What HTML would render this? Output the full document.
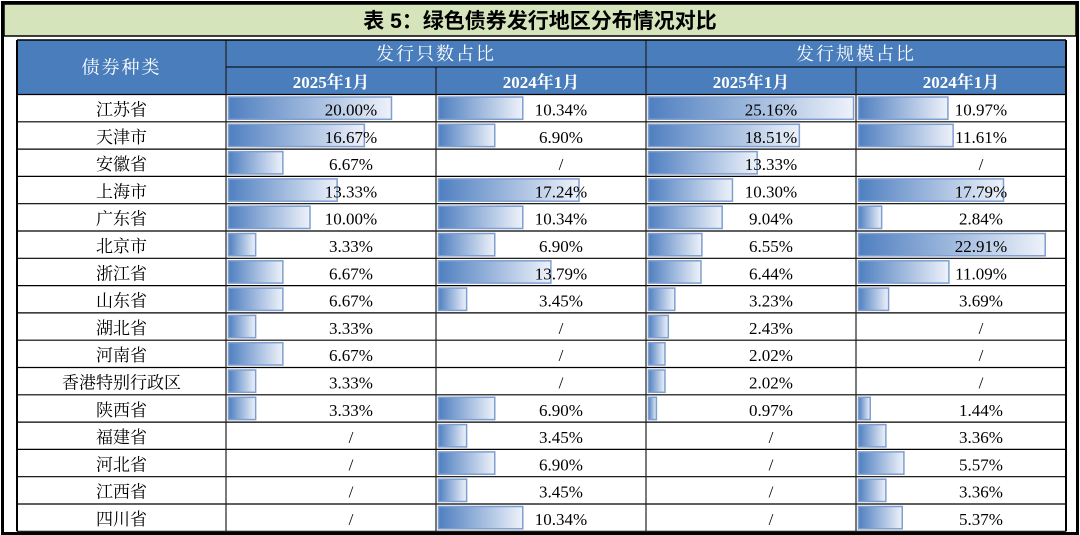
<!DOCTYPE html>
<html><head><meta charset="utf-8">
<style>
html,body{margin:0;padding:0;background:#fff;}
svg{display:block;}
text{font-family:"Liberation Serif","Noto Serif CJK SC",serif;}
</style></head>
<body>
<svg id="chart" width="1080" height="535" viewBox="0 0 1080 535" xmlns="http://www.w3.org/2000/svg">
<defs>
<linearGradient id="barGrad" x1="0" x2="1" y1="0" y2="0">
<stop offset="0" stop-color="#4f7fc0"/>
<stop offset="1" stop-color="#eef2fa"/>
</linearGradient>
</defs>
<rect x="2.5" y="2.5" width="1075" height="531" fill="#fff" stroke="#000" stroke-width="3"/>
<rect x="4" y="4" width="1072" height="32" fill="#d6e4bc" stroke="#000" stroke-width="1.5"/>
<text x="540" y="28" text-anchor="middle" font-size="21" font-weight="bold" style="font-family:'Liberation Sans','Noto Sans CJK SC',sans-serif">表 5：绿色债券发行地区分布情况对比</text>
<g id="table"></g>
</svg>
<script>
const regions = ["江苏省","天津市","安徽省","上海市","广东省","北京市","浙江省","山东省","湖北省","河南省","香港特别行政区","陕西省","福建省","河北省","江西省","四川省"];
const count2025 = [20.00,16.67,6.67,13.33,10.00,3.33,6.67,6.67,3.33,6.67,3.33,3.33,null,null,null,null];
const count2024 = [10.34,6.90,null,17.24,10.34,6.90,13.79,3.45,null,null,null,6.90,3.45,6.90,3.45,10.34];
const scale2025 = [25.16,18.51,13.33,10.30,9.04,6.55,6.44,3.23,2.43,2.02,2.02,0.97,null,null,null,null];
const scale2024 = [10.97,11.61,null,17.79,2.84,22.91,11.09,3.69,null,null,null,1.44,3.36,5.57,3.36,5.37];
const groupHeaders = ["发行只数占比","发行规模占比"];
const subHeaders = ["2025年1月","2024年1月","2025年1月","2024年1月"];

const NS="http://www.w3.org/2000/svg";
const g=document.getElementById('table');
function mk(tag,attrs,parent){const e=document.createElementNS(NS,tag);for(const k in attrs)e.setAttribute(k,attrs[k]);(parent||g).appendChild(e);return e;}
const colX=[17,226,436,646,856,1066];
const h1=40,h2=67,top0=94.5,rowH=27.3;
const pxPerPct=8.15;
function xScale(v){return v*pxPerPct;}
function yRow(i){return top0+i*rowH;}

// header background
let hb=mk('rect',{x:colX[0],y:h1,width:colX[5]-colX[0],height:top0-h1,fill:'#4a7dbb'});


let t=mk('text',{x:(colX[0]+colX[1])/2,y:(h1+top0)/2+6,'text-anchor':'middle','font-size':18,fill:'#fff','letter-spacing':'2'});
t.textContent='债券种类';


groupHeaders.forEach((s,k)=>{
  const x0=colX[1+2*k],x1=colX[3+2*k];
  const e=mk('text',{x:(x0+x1)/2,y:h1+20,'text-anchor':'middle','font-size':18,fill:'#fff','letter-spacing':'2'});
  e.textContent=s;
  
  
});
subHeaders.forEach((s,k)=>{
  const e=mk('text',{x:(colX[1+k]+colX[2+k])/2,y:h2+21,'text-anchor':'middle','font-size':17,'font-weight':'bold',fill:'#fff'});
  e.textContent=s;
  
  
});
const series=[count2025,count2024,scale2025,scale2024];
regions.forEach((r,i)=>{
  const y=yRow(i);
  const lab=mk('text',{x:(colX[0]+colX[1])/2,y:y+21,'text-anchor':'middle','font-size':17});
  lab.textContent=r;
  
  
  series.forEach((arr,k)=>{
    const v=arr[i];
    const cx=colX[1+k];
    if(v!==null){
      const b=mk('rect',{x:cx+2.5,y:y+2.5,width:xScale(v),height:rowH-5,fill:'url(#barGrad)',stroke:'#7f9fd0','stroke-width':1.5});
      
      
    }
    const tx=mk('text',{x:(cx+colX[2+k])/2+20,y:y+21,'text-anchor':'middle','font-size':17});
    tx.textContent=v===null?'/':v.toFixed(2)+'%';
    
    
  });
});
// grid lines
const bottom=yRow(regions.length);
for(let i=0;i<=regions.length;i++){
  const l=mk('line',{x1:colX[0],x2:colX[5],y1:yRow(i),y2:yRow(i),stroke:'#000','stroke-width':1.2});
  
  
}
colX.forEach((x,k)=>{
  let y1=h1;
  if(k===2||k===4)y1=h2;
  const l=mk('line',{x1:x,x2:x,y1:y1,y2:bottom,stroke:k===0||k===5?'#000':'#222','stroke-width':k===0||k===5?2:1.2});
  
  
});
const l2=mk('line',{x1:colX[1],x2:colX[5],y1:h2,y2:h2,stroke:'#000','stroke-width':1});


const tb=mk('line',{x1:colX[0],x2:colX[5],y1:h1,y2:h1,stroke:'#000','stroke-width':1.5});


</script>
</body></html>
